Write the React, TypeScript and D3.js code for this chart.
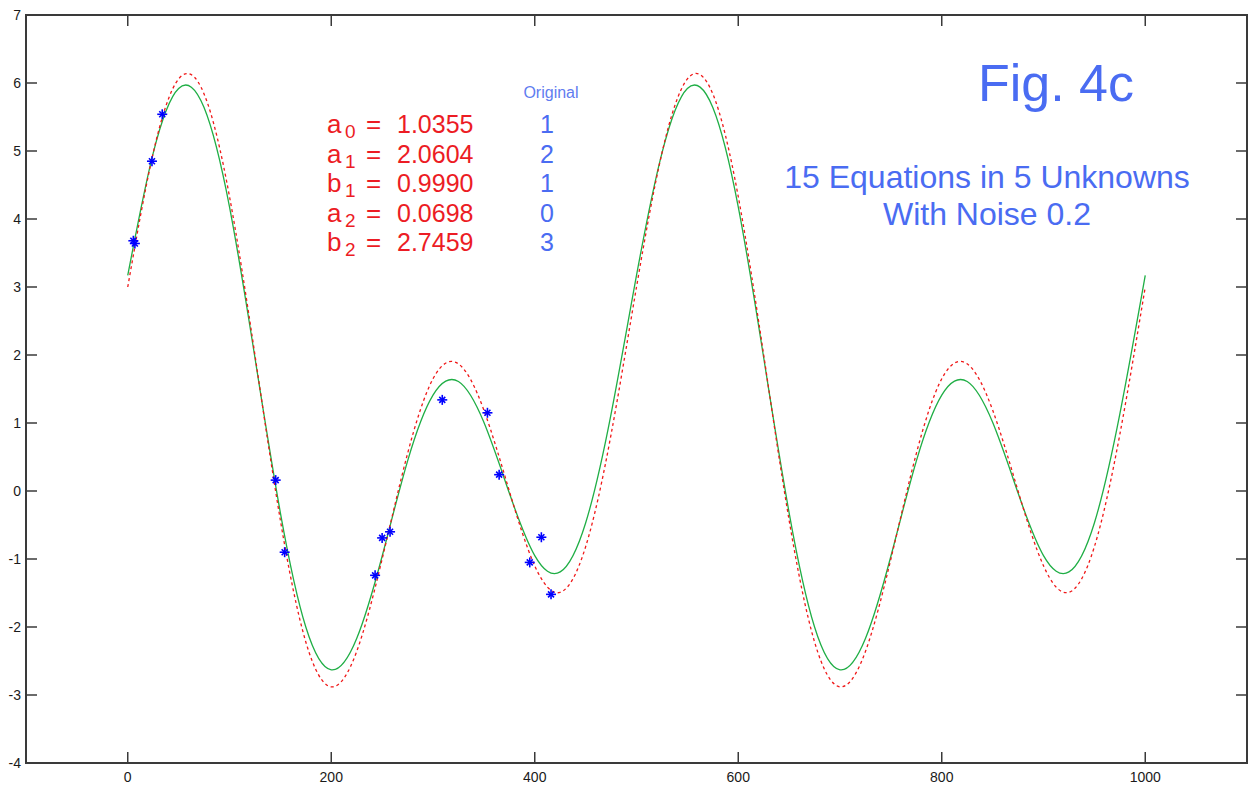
import React, { useEffect, useRef } from "react";
import * as d3 from "d3";

// sample positions along x (one period = 500)
const sampleX = [
  0, 25, 50, 75, 100, 125, 150, 175, 200, 225, 250, 275, 300, 325, 350, 375, 400, 425, 450, 475,
  500, 525, 550, 575, 600, 625, 650, 675, 700, 725, 750, 775, 800, 825, 850, 875, 900, 925, 950, 975,
  1000,
];

// original curve (red dashed)
const originalY = [
  3.0, 4.97, 6.06, 5.84, 4.33, 2.0, -0.43, -2.22, -2.88, -2.36, -1.0, 0.55, 1.65, 1.87, 1.19, 0.0, -1.1, -1.49, -0.82, 0.83,
  3.0, 4.97, 6.06, 5.84, 4.33, 2.0, -0.43, -2.22, -2.88, -2.36, -1.0, 0.55, 1.65, 1.87, 1.19, 0.0, -1.1, -1.49, -0.82, 0.83,
  3.0,
];

// fitted curve (green)
const fittedY = [
  3.17, 4.97, 5.92, 5.64, 4.18, 1.96, -0.32, -2.0, -2.63, -2.17, -0.96, 0.44, 1.41, 1.61, 1.01, -0.03, -0.95, -1.19, -0.47, 1.13,
  3.17, 4.97, 5.92, 5.64, 4.18, 1.96, -0.32, -2.0, -2.63, -2.17, -0.96, 0.44, 1.41, 1.61, 1.01, -0.03, -0.95, -1.19, -0.47, 1.13,
  3.17,
];

// noisy samples (blue asterisks)
const pointX = [5.5, 7, 23.8, 33.9, 145.4, 154.2, 243.1, 250, 257.8, 309.1, 353.5, 365, 395.1, 406.5, 416];
const pointY = [3.68, 3.64, 4.85, 5.54, 0.16, -0.9, -1.24, -0.69, -0.6, 1.34, 1.15, 0.24, -1.05, -0.68, -1.52];

const xTicks = [0, 200, 400, 600, 800, 1000];
const yTicks = [-4, -3, -2, -1, 0, 1, 2, 3, 4, 5, 6, 7];

// coefficient table
const coefLetters = ["a", "a", "b", "a", "b"];
const coefIndex = ["0", "1", "1", "2", "2"];
const coefFitted = ["1.0355", "2.0604", "0.9990", "0.0698", "2.7459"];
const coefOriginal = ["1", "2", "1", "0", "3"];

const W = 1249;
const H = 789;
const FONT = "'Liberation Sans', Arial, sans-serif";

const App = () => {
  const svgRef = useRef<SVGSVGElement>(null);

  useEffect(() => {
    const svg = d3.select(svgRef.current);
    svg.selectAll("*").remove();

    const x = d3.scaleLinear().domain([-100, 1100]).range([26, 1247]);
    const y = d3.scaleLinear().domain([-4, 7]).range([763, 15]);

    svg.append("rect").attr("width", W).attr("height", H).attr("fill", "#fff");

    const axisColor = "#3a3a3a";
    const tickLen = 11;

    // ticks (inward, mirrored on top/right like a boxed plot)
    xTicks.forEach((t) => {
      svg.append("line")
        .attr("x1", x(t)).attr("x2", x(t))
        .attr("y1", y(-4)).attr("y2", y(-4) - tickLen)
        .attr("stroke", axisColor).attr("stroke-width", 1.5);
      svg.append("line")
        .attr("x1", x(t)).attr("x2", x(t))
        .attr("y1", y(7)).attr("y2", y(7) + tickLen)
        .attr("stroke", axisColor).attr("stroke-width", 1.5);
      svg.append("text")
        .attr("x", x(t)).attr("y", y(-4) + 19)
        .attr("text-anchor", "middle")
        .style("font-family", FONT).style("font-size", "14px")
        .attr("fill", "#1a1a1a")
        .text(t);
    });

    yTicks.forEach((t) => {
      svg.append("line")
        .attr("x1", x(-100)).attr("x2", x(-100) + tickLen)
        .attr("y1", y(t)).attr("y2", y(t))
        .attr("stroke", axisColor).attr("stroke-width", 1.5);
      svg.append("line")
        .attr("x1", x(1100)).attr("x2", x(1100) - tickLen)
        .attr("y1", y(t)).attr("y2", y(t))
        .attr("stroke", axisColor).attr("stroke-width", 1.5);
      svg.append("text")
        .attr("x", x(-100) - 5).attr("y", y(t) + 5)
        .attr("text-anchor", "end")
        .style("font-family", FONT).style("font-size", "14px")
        .attr("fill", "#1a1a1a")
        .text(t);
    });

    // axes box
    svg.append("rect")
      .attr("x", x(-100)).attr("y", y(7))
      .attr("width", x(1100) - x(-100)).attr("height", y(-4) - y(7))
      .attr("fill", "none").attr("stroke", axisColor).attr("stroke-width", 2);

    const line = d3
      .line<number>()
      .x((_, i) => x(sampleX[i]))
      .y((d) => y(d))
      .curve(d3.curveNatural);

    // fitted curve
    svg.append("path")
      .datum(fittedY)
      .attr("fill", "none")
      .attr("stroke", "#1fae45")
      .attr("stroke-width", 1.3)
      .attr("d", line);

    // original curve
    svg.append("path")
      .datum(originalY)
      .attr("fill", "none")
      .attr("stroke", "#f01818")
      .attr("stroke-width", 1.3)
      .attr("stroke-dasharray", "3,3")
      .attr("d", line);

    // asterisk markers
    const star = svg.append("g").attr("stroke", "#0000ff").attr("stroke-width", 1.6);
    pointX.forEach((px, i) => {
      const cx = x(px);
      const cy = y(pointY[i]);
      star.append("line").attr("x1", cx - 5).attr("x2", cx + 5).attr("y1", cy).attr("y2", cy);
      star.append("line").attr("x1", cx).attr("x2", cx).attr("y1", cy - 5).attr("y2", cy + 5);
      star.append("line").attr("x1", cx - 3).attr("x2", cx + 3).attr("y1", cy - 3).attr("y2", cy + 3);
      star.append("line").attr("x1", cx - 3).attr("x2", cx + 3).attr("y1", cy + 3).attr("y2", cy - 3);
    });

    // coefficient table
    const red = "#ec1c24";
    const blue = "#4a6cf2";
    svg.append("text")
      .attr("x", 551).attr("y", 98)
      .attr("text-anchor", "middle")
      .style("font-family", FONT).style("font-size", "16px")
      .attr("fill", "#5f7cf0")
      .text("Original");

    coefLetters.forEach((letter, i) => {
      const base = 133 + i * 29.6;
      const row = svg.append("g").style("font-family", FONT).attr("fill", red);
      row.append("text").attr("x", 327).attr("y", base).style("font-size", "26px").text(letter);
      row.append("text").attr("x", 345).attr("y", base + 5).style("font-size", "19px").text(coefIndex[i]);
      row.append("text").attr("x", 366).attr("y", base).style("font-size", "26px").text("=");
      row.append("text").attr("x", 397).attr("y", base).style("font-size", "25px").text(coefFitted[i]);
      svg.append("text")
        .attr("x", 547).attr("y", base)
        .attr("text-anchor", "middle")
        .style("font-family", FONT).style("font-size", "25px")
        .attr("fill", blue)
        .text(coefOriginal[i]);
    });

    // titles
    svg.append("text")
      .attr("x", 1056).attr("y", 101)
      .attr("text-anchor", "middle")
      .style("font-family", FONT).style("font-size", "52px")
      .attr("fill", blue)
      .text("Fig. 4c");

    svg.append("text")
      .attr("x", 987).attr("y", 188)
      .attr("text-anchor", "middle")
      .style("font-family", FONT).style("font-size", "32px")
      .attr("fill", blue)
      .text("15 Equations in 5 Unknowns");

    svg.append("text")
      .attr("x", 987).attr("y", 225)
      .attr("text-anchor", "middle")
      .style("font-family", FONT).style("font-size", "32px")
      .attr("fill", blue)
      .text("With Noise 0.2");
  }, []);

  return (
    <svg
      ref={svgRef}
      width={W}
      height={H}
      style={{ position: "absolute", left: 0, top: 0, display: "block" }}
    ></svg>
  );
};

export default App;
